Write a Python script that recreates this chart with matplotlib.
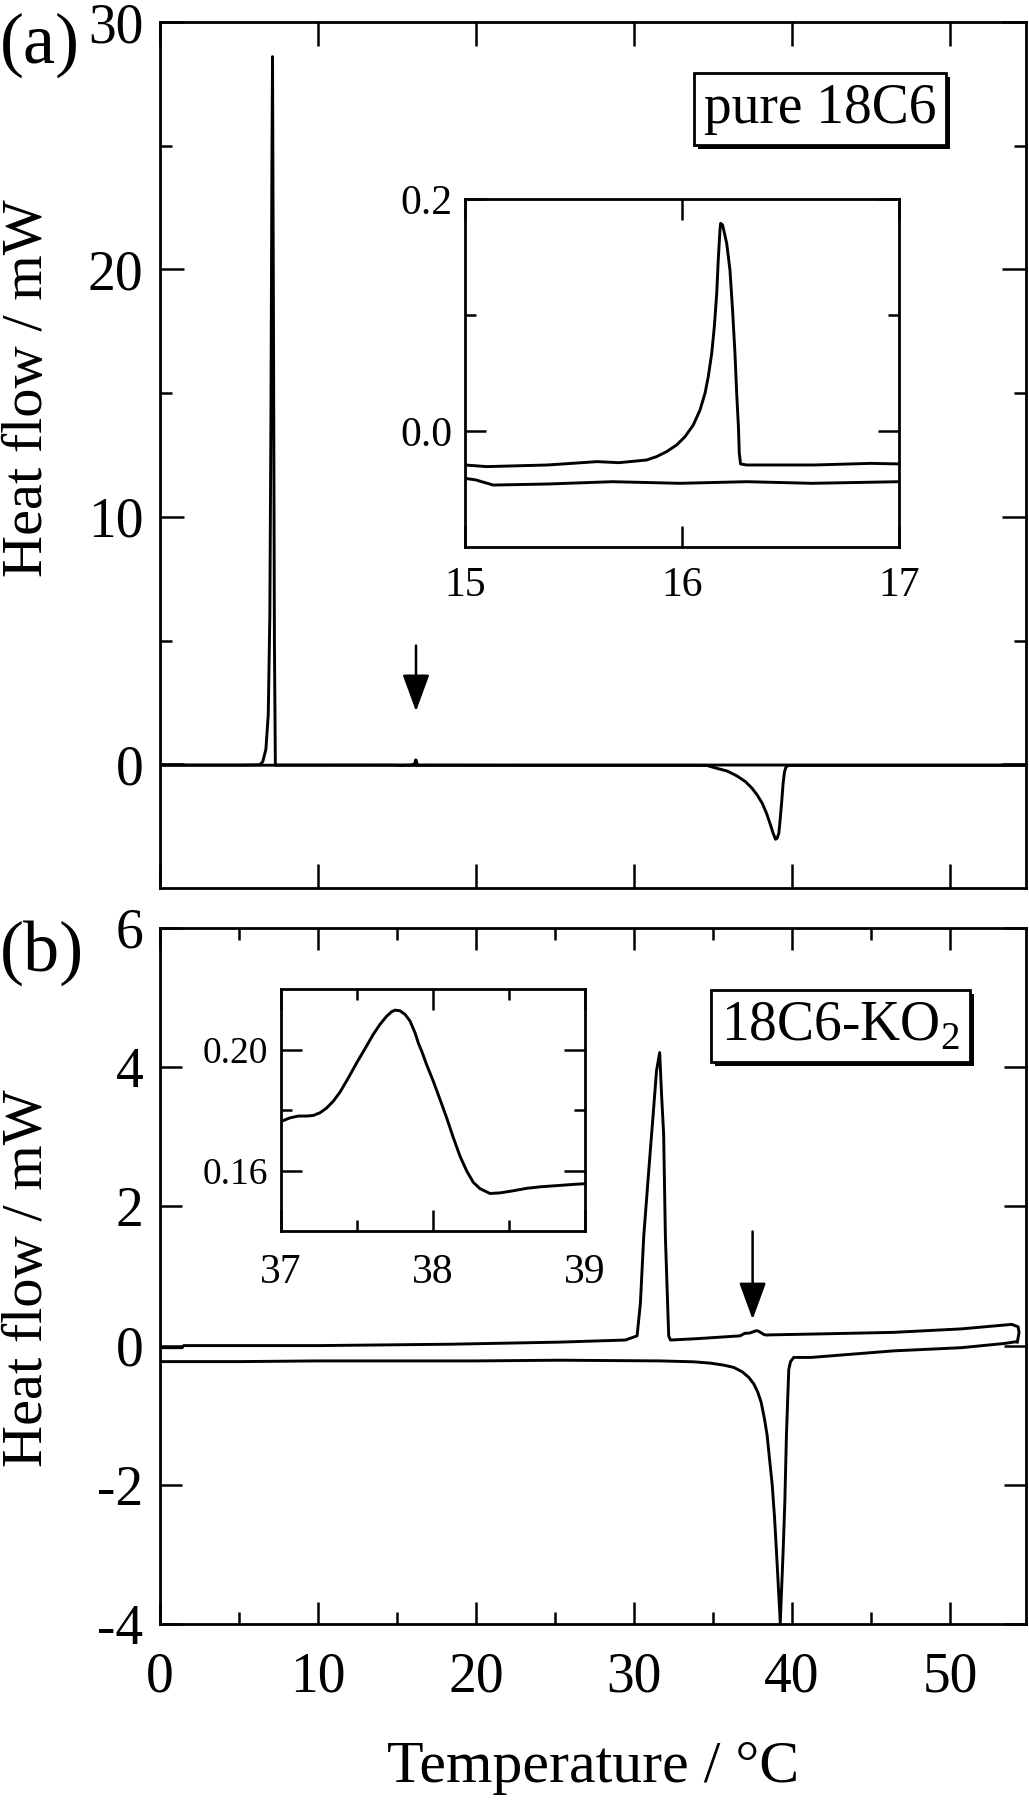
import numpy as np
import matplotlib
matplotlib.use("Agg")
import matplotlib.pyplot as plt
from matplotlib import patheffects
from matplotlib.ticker import MultipleLocator, FixedLocator

plt.rcParams['font.family'] = ['Liberation Serif', 'DejaVu Serif']
plt.rcParams['mathtext.fontset'] = 'custom'
plt.rcParams['mathtext.rm'] = 'Liberation Serif'
plt.rcParams['axes.unicode_minus'] = False

# ---- (a) pure 18C6 ----
cool_a_T = [0, 5, 6.3, 6.5, 6.7, 6.85, 6.95, 7.02, 7.08, 7.12, 7.18, 7.24, 7.3,
            10, 15.0, 15.1, 15.38, 15.61, 15.71, 15.837, 15.883, 15.929, 15.975,
            16.014, 16.052, 16.083, 16.106, 16.121, 16.137, 16.149, 16.160, 16.167,
            16.175, 16.178, 16.187, 16.206, 16.221, 16.233, 16.244, 16.252, 16.260,
            16.264, 16.270, 16.298, 16.61, 16.87, 17.0, 20, 30, 40, 50, 54.8]
cool_a_y = [-0.03, -0.03, -0.02, 0.1, 0.6, 2.0, 6.0, 14.0, 24.0, 28.6, 18.0, 5.0, -0.03,
            -0.03, -0.0293, -0.0307, -0.0293, -0.0264, -0.0273, -0.025, -0.0221, -0.0178, -0.0121,
            -0.0049, 0.0052, 0.0181, 0.0325, 0.0468, 0.067, 0.0899, 0.1187, 0.1474,
            0.1733, 0.179, 0.1776, 0.1618, 0.1388, 0.1043, 0.067, 0.0325, 0.0037,
            -0.0193, -0.0284, -0.0293, -0.0293, -0.0279, -0.0284, -0.03, -0.03, -0.03, -0.03, -0.03]

heat_a_T = [0, 14.5, 15.0, 15.05, 15.13, 15.38, 15.68, 15.99, 16.30, 16.60, 17.0,
            25, 33.6, 34.62, 35.25, 35.89, 36.52, 37.05, 37.47, 37.79, 38.11, 38.38,
            38.63, 38.80, 38.95, 39.05, 39.16, 39.26, 39.35, 39.43, 39.52, 39.62,
            39.79, 45, 54.8]
heat_a_y = [-0.038, -0.038, -0.0408, -0.0422, -0.0466, -0.0457, -0.0437, -0.0451, -0.0437, -0.0451, -0.0437,
            -0.045, -0.045, -0.05, -0.166, -0.273, -0.475, -0.704, -0.972, -1.241, -1.577, -1.98,
            -2.45, -2.787, -3.03, -2.99, -2.787, -2.115, -1.443, -0.771, -0.30, -0.099,
            -0.045, -0.045, -0.045]

# ---- (b) 18C6-KO2 ----
cool_b_T = [0, 1.4, 1.5, 10, 18.4, 25.3, 29.45, 30.19, 30.4, 30.61, 30.93, 31.2,
            31.42, 31.62, 31.74, 31.87, 31.98, 32.19, 32.3, 34.0, 36.7,
            37.004, 37.059, 37.114, 37.169, 37.213, 37.257, 37.301, 37.344, 37.388,
            37.443, 37.498, 37.553, 37.607, 37.651, 37.695, 37.728, 37.750, 37.783,
            37.816, 37.849, 37.882, 37.903, 37.926, 37.958, 38.002, 38.046, 38.090,
            38.134, 38.178, 38.222, 38.265, 38.309, 38.375, 38.441, 38.528, 38.616,
            38.704, 38.814, 38.923, 38.989,
            42.2, 46.4, 50.7, 53.9, 54.3, 54.36, 54.25]
cool_b_y = [-0.03, -0.03, 0.0, 0.0, 0.02, 0.05, 0.08, 0.14, 0.61, 1.57, 2.52, 3.3,
            3.95, 4.21, 3.6, 3.04, 1.57, 0.14, 0.08, 0.10, 0.14,
            0.1763, 0.1774, 0.1780, 0.1780, 0.1782, 0.1791, 0.1807, 0.1829, 0.1859,
            0.1906, 0.1956, 0.2003, 0.2050, 0.2083, 0.2110, 0.2125, 0.2130, 0.2128,
            0.2116, 0.2094, 0.2055, 0.2022, 0.1994, 0.1950, 0.1895, 0.1835, 0.1774,
            0.1708, 0.1647, 0.1598, 0.1561, 0.1540, 0.1524, 0.1526, 0.1533, 0.1541,
            0.1546, 0.1550, 0.1554, 0.1556,
            0.17, 0.19, 0.24, 0.305, 0.27, 0.186, 0.05]

heat_b_T = [0, 5, 10, 20, 25.3, 31.67, 33.78, 34.83, 35.68, 36.31, 36.84, 37.26,
            37.58, 37.83, 38.04, 38.25, 38.42, 38.59, 38.74, 38.89, 39.01, 39.25,
            39.43, 39.54, 39.64, 39.73, 39.79, 39.90, 40.1, 41.2, 46.4, 50.7, 53.4, 54.15]
heat_b_y = [-0.23, -0.23, -0.22, -0.22, -0.21, -0.22, -0.233, -0.252, -0.281, -0.314, -0.376, -0.457,
            -0.552, -0.671, -0.814, -1.052, -1.29, -1.671, -2.0, -2.48, -2.96, -3.98,
            -2.96, -2.24, -1.29, -0.71, -0.34, -0.23, -0.17, -0.17, -0.076, -0.03, 0.03, 0.055]

W, H = 1029, 1800
LW = 2.1


def style(ax, major=17, minor=8.5, size=40, pad=12):
    for s in ax.spines.values():
        s.set_linewidth(2)
    ax.tick_params(which='both', direction='in', top=True, right=True, width=1.8,
                   labelsize=size, pad=pad)
    ax.tick_params(which='major', length=major)
    ax.tick_params(which='minor', length=minor)


def add_box(ax, x, y, label):
    t = ax.text(x, y, label, transform=ax.transAxes, fontsize=40,
                ha='center', va='center',
                bbox=dict(boxstyle='square,pad=0.18', fc='white', ec='k', lw=2))
    t.get_bbox_patch().set_path_effects([
        patheffects.SimplePatchShadow(offset=(3, -3), shadow_rgbFace='k', alpha=1.0),
        patheffects.Normal()])


def add_arrow(ax, x, tip, tail):
    ax.annotate('', xy=(x, tip), xytext=(x, tail),
                arrowprops=dict(arrowstyle='-|>,head_length=1.15,head_width=0.42',
                                color='k', lw=1.8, mutation_scale=20,
                                shrinkA=0, shrinkB=0))


fig = plt.figure(figsize=(W / 100, H / 100), dpi=100)

# panel (a)
ax_a = fig.add_axes([160 / W, 1 - 888 / H, 866 / W, 866 / H])
ax_a.plot(cool_a_T, cool_a_y, color='k', lw=LW)
ax_a.plot(heat_a_T, heat_a_y, color='k', lw=LW)
ax_a.set_xlim(0, 54.8)
ax_a.set_ylim(-5, 30)
ax_a.xaxis.set_major_locator(MultipleLocator(10))
ax_a.yaxis.set_major_locator(FixedLocator([0, 10, 20, 30]))
ax_a.yaxis.set_minor_locator(FixedLocator([5, 15, 25]))
style(ax_a)
ax_a.tick_params(axis='x', labelbottom=False)
add_arrow(ax_a, 16.2, 2.14, 4.8)
add_box(ax_a, 0.762, 0.8995, 'pure 18C6')

# panel (b)
ax_b = fig.add_axes([160 / W, 1 - 1624 / H, 866 / W, 696 / H])
ax_b.plot(cool_b_T, cool_b_y, color='k', lw=LW)
ax_b.plot(heat_b_T, heat_b_y, color='k', lw=LW)
ax_b.set_xlim(0, 54.8)
ax_b.set_ylim(-4, 6)
ax_b.xaxis.set_major_locator(MultipleLocator(10))
ax_b.xaxis.set_minor_locator(MultipleLocator(5))
ax_b.yaxis.set_major_locator(MultipleLocator(2))
style(ax_b, major=16)
ax_b.tick_params(axis='x', pad=20)
ax_b.set_xlabel('Temperature / °C', fontsize=43, va='top')
ax_b.xaxis.set_label_coords(0.5, -0.168)
add_arrow(ax_b, 37.5, 0.376, 1.64)
add_box(ax_b, 0.786, 0.859, r'18C6-KO$_\mathrm{2}$')

# inset (a)
ins_a = fig.add_axes([465 / W, 1 - 547 / H, 434 / W, 348 / H])
ins_a.plot(cool_a_T, cool_a_y, color='k', lw=LW)
ins_a.plot(heat_a_T, heat_a_y, color='k', lw=LW)
ins_a.set_xlim(15, 17)
ins_a.set_ylim(-0.1, 0.2)
ins_a.xaxis.set_major_locator(FixedLocator([15, 16, 17]))
ins_a.yaxis.set_major_locator(FixedLocator([0.0, 0.2]))
ins_a.yaxis.set_minor_locator(FixedLocator([0.1]))
ins_a.set_yticklabels(['0.0', '0.2'])
style(ins_a, major=15, minor=8, size=30, pad=9)
ins_a.tick_params(axis='x', pad=14)

# inset (b)
ins_b = fig.add_axes([281 / W, 1 - 1231 / H, 304 / W, 242 / H])
ins_b.plot(cool_b_T, cool_b_y, color='k', lw=LW)
ins_b.set_xlim(37, 39)
ins_b.set_ylim(0.14, 0.22)
ins_b.xaxis.set_major_locator(FixedLocator([37, 38, 39]))
ins_b.xaxis.set_minor_locator(FixedLocator([37.5, 38.5]))
ins_b.yaxis.set_major_locator(FixedLocator([0.16, 0.20]))
ins_b.yaxis.set_minor_locator(FixedLocator([0.18]))
ins_b.set_yticklabels(['0.16', '0.20'])
style(ins_b, major=15, minor=8, size=27, pad=9)
ins_b.tick_params(axis='x', labelsize=30, pad=16)

# labels
fig.text(28 / W, 1 - 388 / H, 'Heat flow / mW', rotation=90, fontsize=42,
         ha='center', va='center')
fig.text(28 / W, 1 - 1278 / H, 'Heat flow / mW', rotation=90, fontsize=42,
         ha='center', va='center')
fig.text(0.0, 1 - 45 / H, '(a)', fontsize=52, ha='left', va='center')
fig.text(0.0, 1 - 953 / H, '(b)', fontsize=52, ha='left', va='center')

fig.savefig('out.png', dpi=100)
